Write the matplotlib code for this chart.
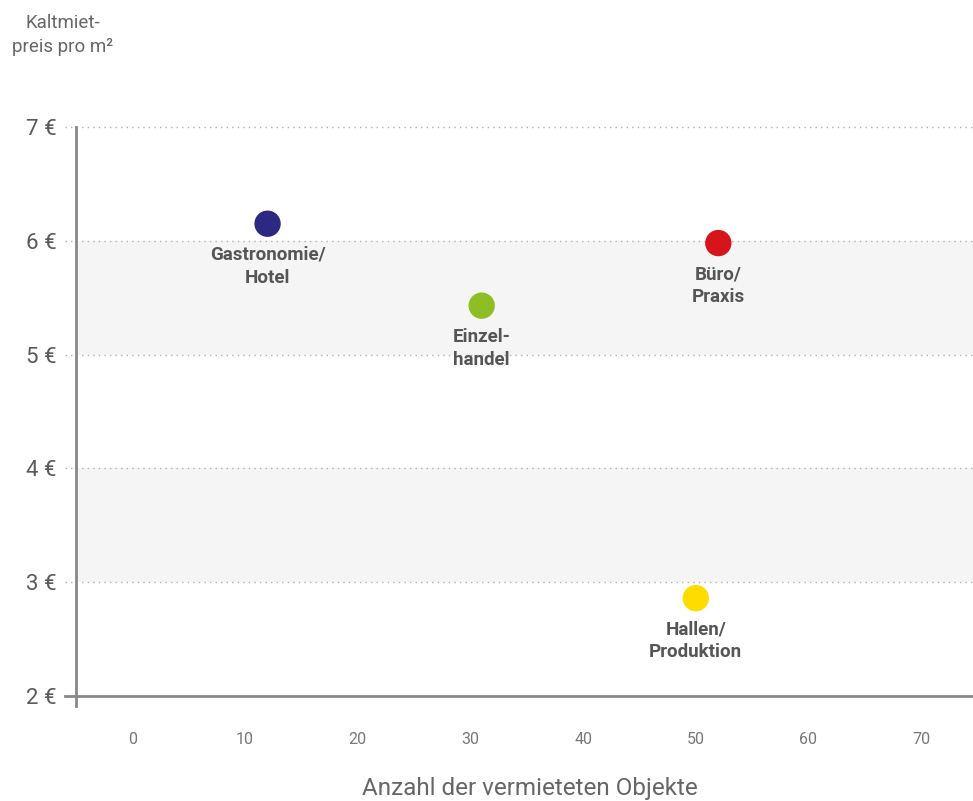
import matplotlib
matplotlib.use("Agg")
import matplotlib.pyplot as plt
from matplotlib.lines import Line2D

# Data
categories = ["Gastronomie/\nHotel", "Einzel-\nhandel", "Büro/\nPraxis", "Hallen/\nProduktion"]
anzahl = [12, 31, 52, 50]
preis = [6.15, 5.43, 5.98, 2.86]
colors = ["#2d2882", "#8dbf25", "#d7141b", "#ffdc00"]
x_ticks = [0, 10, 20, 30, 40, 50, 60, 70]
y_ticks = [2, 3, 4, 5, 6, 7]
y_ticklabels = ["2 €", "3 €", "4 €", "5 €", "6 €", "7 €"]
bands = [(3, 4), (5, 6)]

plt.rcParams["font.family"] = ["Roboto", "DejaVu Sans"]

fig = plt.figure(figsize=(9.73, 8.01), dpi=100)
ax = fig.add_axes([76 / 973, 105 / 801, 1 - 76 / 973, 569 / 801])
ax.set_xlim(-5, 74.6)
ax.set_ylim(2, 7.0)

for lo, hi in bands:
    ax.axhspan(lo, hi, color="#f5f5f5", zorder=0, lw=0)

for yv in y_ticks[1:]:
    ax.add_line(Line2D([-0.012, 1], [yv, yv], transform=ax.get_yaxis_transform(),
                       color="#b0b0b0", lw=1, ls=(0, (1, 3)), clip_on=False, zorder=1))

for s in ["top", "right", "left", "bottom"]:
    ax.spines[s].set_visible(False)
# axis lines
ax.add_line(Line2D([0, 0], [-0.018, 1], transform=ax.transAxes, color="#888888",
                   lw=2, clip_on=False, zorder=3))
ax.add_line(Line2D([-0.012, 1], [0, 0], transform=ax.transAxes, color="#888888",
                   lw=2, clip_on=False, zorder=3))

ax.set_xticks(x_ticks)
ax.set_xticklabels([str(v) for v in x_ticks], fontsize=11.5, color="#777777")
ax.set_yticks(y_ticks)
ax.set_yticklabels(y_ticklabels, fontsize=16, color="#5a5a5a")
ax.tick_params(axis="both", length=0)
ax.tick_params(axis="x", pad=26)
ax.tick_params(axis="y", pad=14)

ax.scatter(anzahl, preis, s=360, c=colors, zorder=5, linewidths=0)
for xv, yv, lab in zip(anzahl, preis, categories):
    ax.annotate(lab, (xv, yv), xytext=(0, -16), textcoords="offset points",
                ha="center", va="top", fontsize=13.5, fontweight="bold",
                color="#555555", linespacing=1.35, zorder=6)

fig.text(530 / 973, 1 - 789 / 801, "Anzahl der vermieteten Objekte", ha="center",
         va="center", fontsize=17.5, color="#666666")
fig.text(63 / 973, 1 - 35 / 801, "Kaltmiet-\npreis pro m²", ha="center", va="center",
         fontsize=13.5, color="#666666", linespacing=1.45)

fig.savefig("out.png", dpi=100)
